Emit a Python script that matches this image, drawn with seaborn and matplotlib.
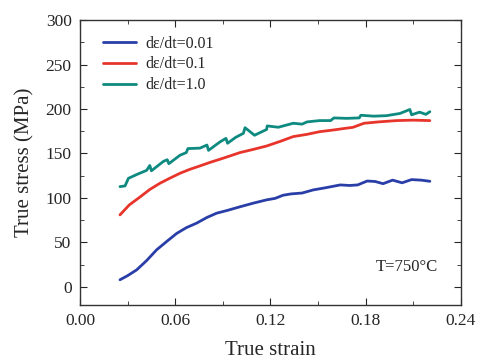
import numpy as np
import pandas as pd
import seaborn as sns
import matplotlib.pyplot as plt
from matplotlib.ticker import MultipleLocator

# strain / stress readings for each strain rate
strain_001 = [0.0252, 0.030, 0.0357, 0.042, 0.0483, 0.055, 0.0609, 0.067, 0.0735, 0.080, 0.0861,
              0.093, 0.1008, 0.109, 0.1176, 0.123, 0.128, 0.133, 0.140, 0.147, 0.155, 0.164,
              0.170, 0.175, 0.181, 0.186, 0.191, 0.197, 0.203, 0.209, 0.215, 0.2205]
stress_001 = [7.9, 12.5, 19.0, 29.5, 41.6, 51.5, 60.0, 66.5, 71.6, 78.0, 82.8,
              86.0, 90.0, 94.0, 97.8, 99.5, 103.0, 104.5, 105.5, 109.0, 111.5, 114.6,
              114.0, 114.6, 119.0, 118.5, 116.0, 120.0, 117.0, 120.6, 120.0, 118.7]

strain_01 = [0.0252, 0.031, 0.0378, 0.044, 0.0504, 0.057, 0.063, 0.069, 0.0756, 0.082, 0.0882,
             0.095, 0.1008, 0.109, 0.1176, 0.126, 0.1344, 0.143, 0.151, 0.160, 0.168, 0.172,
             0.179, 0.188, 0.1995, 0.210, 0.2205]
stress_01 = [80.9, 92.0, 101.0, 109.5, 116.5, 122.5, 127.7, 132.0, 136.0, 140.0, 143.5,
             147.5, 151.0, 154.5, 158.4, 163.5, 169.0, 171.5, 174.5, 176.5, 178.5, 179.4,
             184.0, 185.5, 187.0, 187.5, 187.0]

strain_10 = [0.0252, 0.0284, 0.0305, 0.036, 0.042, 0.044, 0.045, 0.0525, 0.055, 0.056, 0.063,
             0.067, 0.068, 0.0756, 0.080, 0.081, 0.0882, 0.092, 0.093, 0.098, 0.103, 0.104,
             0.110, 0.1176, 0.118, 0.125, 0.1344, 0.140, 0.143, 0.151, 0.158, 0.160, 0.168,
             0.176, 0.177, 0.185, 0.193, 0.2016, 0.2079, 0.209, 0.214, 0.218, 0.2205]
stress_10 = [112.7, 113.5, 122.0, 126.5, 131.0, 136.5, 130.5, 141.0, 143.0, 138.5, 148.0,
             151.0, 155.5, 156.0, 159.5, 153.5, 163.0, 167.0, 161.5, 168.0, 172.7, 179.0,
             170.5, 177.0, 181.0, 179.5, 184.0, 183.0, 185.5, 187.0, 187.0, 190.0, 189.5,
             190.0, 193.0, 192.0, 192.5, 195.0, 199.5, 193.5, 196.5, 194.0, 197.0]

labels = ["dε/dt=0.01", "dε/dt=0.1", "dε/dt=1.0"]
colors = ["#2a3ea8", "#e8352c", "#0f8a80"]

df = pd.concat([
    pd.DataFrame({"strain": strain_001, "stress": stress_001, "rate": labels[0]}),
    pd.DataFrame({"strain": strain_01, "stress": stress_01, "rate": labels[1]}),
    pd.DataFrame({"strain": strain_10, "stress": stress_10, "rate": labels[2]}),
])

sns.set_style("ticks")
plt.rcParams["font.family"] = ["Liberation Serif", "DejaVu Serif"]

fig = plt.figure(figsize=(4.79, 3.6), dpi=100)
ax = fig.add_axes([0.167, 0.154, 0.795, 0.790])

sns.lineplot(data=df, x="strain", y="stress", hue="rate", palette=colors,
             linewidth=2, sort=False, estimator=None, ax=ax)

ax.set_xlim(0, 0.24)
ax.set_ylim(-20, 300)
ax.set_xticks([0.00, 0.06, 0.12, 0.18, 0.24])
ax.set_xticklabels(["0.00", "0.06", "0.12", "0.18", "0.24"])
ax.set_yticks(range(0, 301, 50))
ax.xaxis.set_minor_locator(MultipleLocator(0.03))
ax.yaxis.set_minor_locator(MultipleLocator(25))
ax.tick_params(which="both", direction="in", top=True, right=True, labelsize=12.5, pad=6)
ax.tick_params(which="major", length=5)
ax.tick_params(which="minor", length=3)
for s in ax.spines.values():
    s.set_linewidth(1)
    s.set_color("#333333")

ax.set_xlabel("True strain", fontsize=15, labelpad=9)
ax.set_ylabel("True stress (MPa)", fontsize=15, labelpad=8)

ax.legend(frameon=False, loc="upper left", fontsize=11.5, handlelength=2.1,
          handletextpad=0.6, borderaxespad=0.3, labelspacing=0.3,
          bbox_to_anchor=(0.03, 0.985))
ax.text(0.94, 0.133, "T=750°C", transform=ax.transAxes, ha="right", va="center", fontsize=12)

plt.savefig("out.png", dpi=100)
